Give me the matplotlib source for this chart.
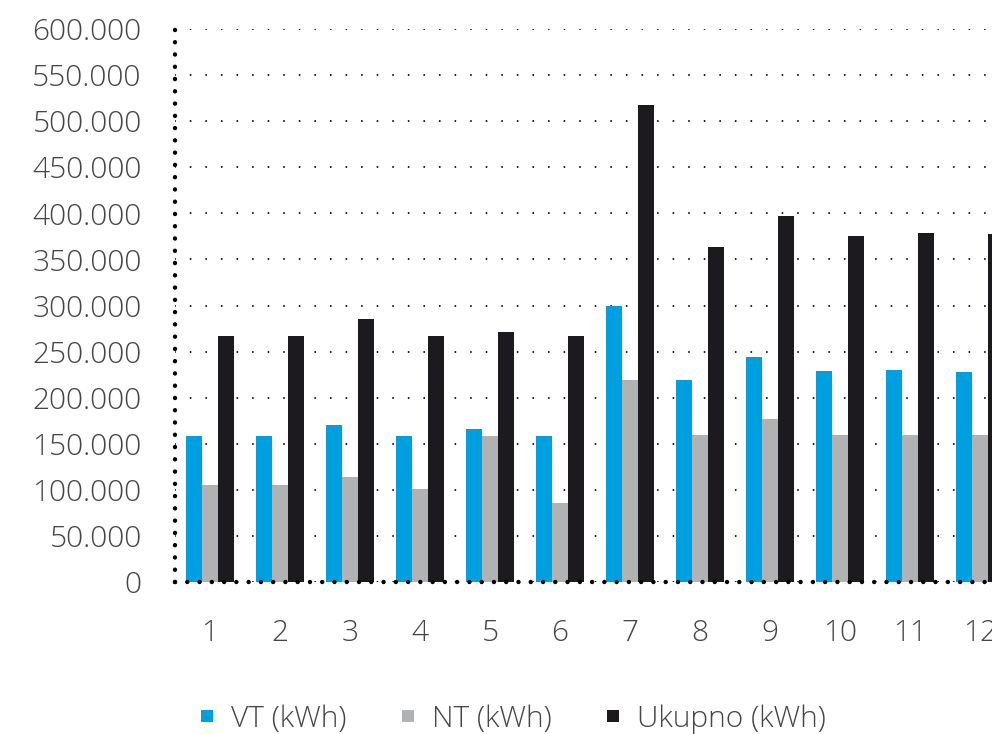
import matplotlib
matplotlib.use("Agg")
import matplotlib.pyplot as plt
import numpy as np
from matplotlib.ticker import FuncFormatter, MultipleLocator
from matplotlib.lines import Line2D

plt.rcParams['font.family'] = ['Open Sans', 'DejaVu Sans']

months = ['1', '2', '3', '4', '5', '6', '7', '8', '9', '10', '11', '12']
vt = [158000, 158000, 170000, 158000, 166000, 158000, 299000, 219000, 244000, 229000, 230000, 228000]
nt = [105000, 105000, 114000, 101000, 158000, 86000, 219000, 159000, 177000, 159000, 159000, 159000]
ukupno = [267000, 267000, 285000, 267000, 271000, 267000, 518000, 363000, 397000, 375000, 379000, 378000]
series_names = ['VT (kWh)', 'NT (kWh)', 'Ukupno (kWh)']
colors = ['#009fe0', '#b1b2b4', '#1c1a1f']

fig = plt.figure(figsize=(9.92, 7.34), dpi=100)
ax = fig.add_axes([175/992, 152/734, 840/992, 553/734])

x = np.arange(len(months))
w = 0.233
for i, (vals, c) in enumerate(zip([vt, nt, ukupno], colors)):
    ax.bar(x + (i - 1) * w, vals, width=w, color=c, zorder=3, linewidth=0)

ax.set_xlim(-0.5, 11.5)
ax.set_ylim(0, 600000)
ax.yaxis.set_major_locator(MultipleLocator(50000))
ax.yaxis.set_major_formatter(FuncFormatter(lambda v, p: f"{int(round(v)):,}".replace(",", ".")))
ax.set_xticks(x)
ax.set_xticklabels(months)

tick_color = '#454545'
ax.tick_params(axis='both', length=0, labelsize=21.5, colors=tick_color)
ax.tick_params(axis='y', pad=24)
ax.tick_params(axis='x', pad=26)
for lab in ax.get_xticklabels() + ax.get_yticklabels():
    lab.set_fontweight('light')

ax.set_axisbelow(True)
ax.yaxis.grid(True, color='black', linewidth=1.4, linestyle=(0, (0.01, 8.0)))
ax.xaxis.grid(False)
for gl in ax.yaxis.get_gridlines():
    gl.set_dash_capstyle('round')

for s in ['top', 'right']:
    ax.spines[s].set_visible(False)
for s in ['left', 'bottom']:
    sp = ax.spines[s]
    sp.set_color('black')
    sp.set_linewidth(3.2)
    sp.set_linestyle((0, (0.01, 2.75)))
    sp.set_capstyle('round')
    sp.set_zorder(4)

handles = [Line2D([0], [0], marker='s', linestyle='none', markersize=9,
                  markerfacecolor=c, markeredgewidth=0) for c in colors]
leg = fig.legend(handles, series_names, loc='center', bbox_to_anchor=(512/992, 1 - 719/734),
                 ncol=3, frameon=False, fontsize=21.5, handlelength=0.6,
                 handletextpad=0.5, columnspacing=1.75)
for t in leg.get_texts():
    t.set_color(tick_color)
    t.set_fontweight('light')

fig.savefig('out.png', dpi=100)
